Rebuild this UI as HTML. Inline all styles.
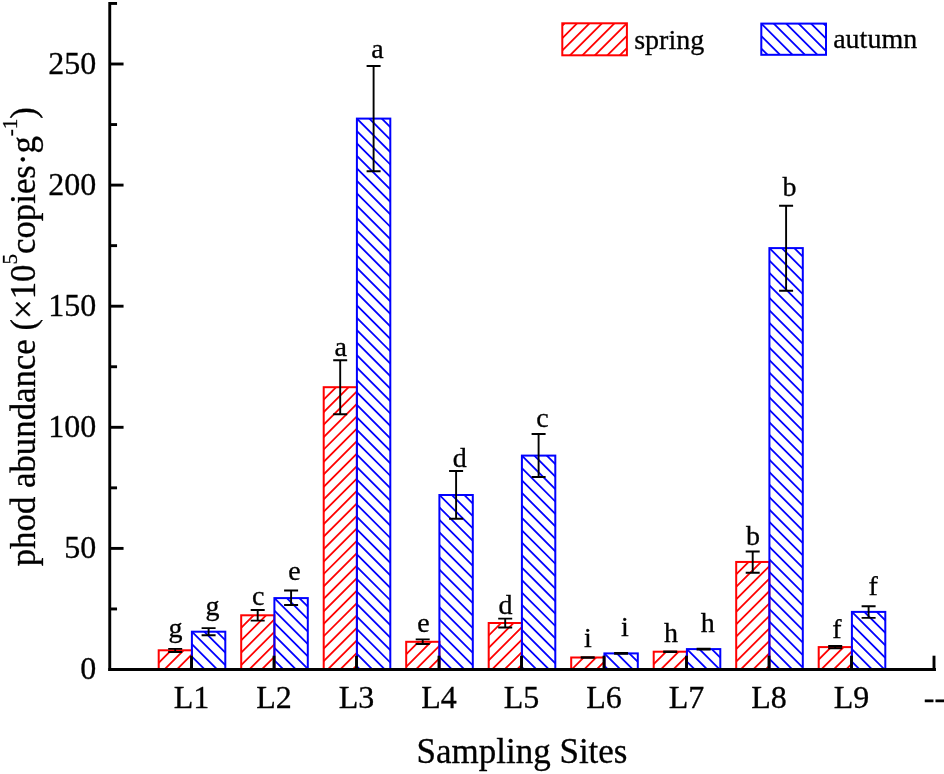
<!DOCTYPE html>
<html><head><meta charset="utf-8"><title>phod abundance</title>
<style>html,body{margin:0;padding:0;background:#fff}body{width:944px;height:774px;overflow:hidden;font-family:"Liberation Serif",serif}</style>
</head><body>
<svg width="944" height="774" viewBox="0 0 944 774" style="display:block;opacity:0.999;will-change:transform" font-family="'Liberation Serif', serif" fill="#000" stroke="#000" stroke-width="0.3">
<rect width="944" height="774" fill="#fff" stroke="none"/>
<defs><clipPath id="cr0"><rect x="158.70" y="650.30" width="33.20" height="19.20"/></clipPath><clipPath id="cb0"><rect x="191.90" y="631.70" width="33.40" height="37.80"/></clipPath><clipPath id="cr1"><rect x="241.20" y="615.30" width="33.20" height="54.20"/></clipPath><clipPath id="cb1"><rect x="274.40" y="598.10" width="33.40" height="71.40"/></clipPath><clipPath id="cr2"><rect x="323.70" y="387.20" width="33.20" height="282.30"/></clipPath><clipPath id="cb2"><rect x="356.90" y="118.60" width="33.40" height="550.90"/></clipPath><clipPath id="cr3"><rect x="406.20" y="641.80" width="33.20" height="27.70"/></clipPath><clipPath id="cb3"><rect x="439.40" y="495.00" width="33.40" height="174.50"/></clipPath><clipPath id="cr4"><rect x="488.70" y="623.00" width="33.20" height="46.50"/></clipPath><clipPath id="cb4"><rect x="521.90" y="455.60" width="33.40" height="213.90"/></clipPath><clipPath id="cr5"><rect x="571.20" y="657.50" width="33.20" height="12.00"/></clipPath><clipPath id="cb5"><rect x="604.40" y="653.40" width="33.40" height="16.10"/></clipPath><clipPath id="cr6"><rect x="653.70" y="651.70" width="33.20" height="17.80"/></clipPath><clipPath id="cb6"><rect x="686.90" y="649.10" width="33.40" height="20.40"/></clipPath><clipPath id="cr7"><rect x="736.20" y="561.95" width="33.20" height="107.55"/></clipPath><clipPath id="cb7"><rect x="769.40" y="248.10" width="33.40" height="421.40"/></clipPath><clipPath id="cr8"><rect x="818.70" y="647.10" width="33.20" height="22.40"/></clipPath><clipPath id="cb8"><rect x="851.90" y="611.90" width="33.40" height="57.60"/></clipPath><clipPath id="clr"><rect x="562.30" y="23.30" width="64.60" height="32.00"/></clipPath><clipPath id="clb"><rect x="761.30" y="23.60" width="64.70" height="31.20"/></clipPath></defs>
<path clip-path="url(#cr0)" d="M157.70 651.30L192.90 616.10M157.70 663.75L192.90 628.55M157.70 676.20L192.90 641.00M157.70 688.65L192.90 653.45M157.70 701.10L192.90 665.90" stroke="#ff0000" stroke-width="1.8" fill="none"/>
<rect x="158.70" y="650.30" width="33.20" height="19.20" fill="none" stroke="#ff0000" stroke-width="2.0"/>
<path clip-path="url(#cb0)" d="M190.90 605.80L226.30 641.20M190.90 618.25L226.30 653.65M190.90 630.70L226.30 666.10M190.90 643.15L226.30 678.55M190.90 655.60L226.30 691.00M190.90 668.05L226.30 703.45" stroke="#0000ff" stroke-width="1.8" fill="none"/>
<rect x="191.90" y="631.70" width="33.40" height="37.80" fill="none" stroke="#0000ff" stroke-width="2.0"/>
<path clip-path="url(#cr1)" d="M240.20 616.30L275.40 581.10M240.20 628.75L275.40 593.55M240.20 641.20L275.40 606.00M240.20 653.65L275.40 618.45M240.20 666.10L275.40 630.90M240.20 678.55L275.40 643.35M240.20 691.00L275.40 655.80M240.20 703.45L275.40 668.25" stroke="#ff0000" stroke-width="1.8" fill="none"/>
<rect x="241.20" y="615.30" width="33.20" height="54.20" fill="none" stroke="#ff0000" stroke-width="2.0"/>
<path clip-path="url(#cb1)" d="M273.40 572.20L308.80 607.60M273.40 584.65L308.80 620.05M273.40 597.10L308.80 632.50M273.40 609.55L308.80 644.95M273.40 622.00L308.80 657.40M273.40 634.45L308.80 669.85M273.40 646.90L308.80 682.30M273.40 659.35L308.80 694.75" stroke="#0000ff" stroke-width="1.8" fill="none"/>
<rect x="274.40" y="598.10" width="33.40" height="71.40" fill="none" stroke="#0000ff" stroke-width="2.0"/>
<path clip-path="url(#cr2)" d="M322.70 388.20L357.90 353.00M322.70 400.65L357.90 365.45M322.70 413.10L357.90 377.90M322.70 425.55L357.90 390.35M322.70 438.00L357.90 402.80M322.70 450.45L357.90 415.25M322.70 462.90L357.90 427.70M322.70 475.35L357.90 440.15M322.70 487.80L357.90 452.60M322.70 500.25L357.90 465.05M322.70 512.70L357.90 477.50M322.70 525.15L357.90 489.95M322.70 537.60L357.90 502.40M322.70 550.05L357.90 514.85M322.70 562.50L357.90 527.30M322.70 574.95L357.90 539.75M322.70 587.40L357.90 552.20M322.70 599.85L357.90 564.65M322.70 612.30L357.90 577.10M322.70 624.75L357.90 589.55M322.70 637.20L357.90 602.00M322.70 649.65L357.90 614.45M322.70 662.10L357.90 626.90M322.70 674.55L357.90 639.35M322.70 687.00L357.90 651.80M322.70 699.45L357.90 664.25" stroke="#ff0000" stroke-width="1.8" fill="none"/>
<rect x="323.70" y="387.20" width="33.20" height="282.30" fill="none" stroke="#ff0000" stroke-width="2.0"/>
<path clip-path="url(#cb2)" d="M355.90 92.70L391.30 128.10M355.90 105.15L391.30 140.55M355.90 117.60L391.30 153.00M355.90 130.05L391.30 165.45M355.90 142.50L391.30 177.90M355.90 154.95L391.30 190.35M355.90 167.40L391.30 202.80M355.90 179.85L391.30 215.25M355.90 192.30L391.30 227.70M355.90 204.75L391.30 240.15M355.90 217.20L391.30 252.60M355.90 229.65L391.30 265.05M355.90 242.10L391.30 277.50M355.90 254.55L391.30 289.95M355.90 267.00L391.30 302.40M355.90 279.45L391.30 314.85M355.90 291.90L391.30 327.30M355.90 304.35L391.30 339.75M355.90 316.80L391.30 352.20M355.90 329.25L391.30 364.65M355.90 341.70L391.30 377.10M355.90 354.15L391.30 389.55M355.90 366.60L391.30 402.00M355.90 379.05L391.30 414.45M355.90 391.50L391.30 426.90M355.90 403.95L391.30 439.35M355.90 416.40L391.30 451.80M355.90 428.85L391.30 464.25M355.90 441.30L391.30 476.70M355.90 453.75L391.30 489.15M355.90 466.20L391.30 501.60M355.90 478.65L391.30 514.05M355.90 491.10L391.30 526.50M355.90 503.55L391.30 538.95M355.90 516.00L391.30 551.40M355.90 528.45L391.30 563.85M355.90 540.90L391.30 576.30M355.90 553.35L391.30 588.75M355.90 565.80L391.30 601.20M355.90 578.25L391.30 613.65M355.90 590.70L391.30 626.10M355.90 603.15L391.30 638.55M355.90 615.60L391.30 651.00M355.90 628.05L391.30 663.45M355.90 640.50L391.30 675.90M355.90 652.95L391.30 688.35M355.90 665.40L391.30 700.80" stroke="#0000ff" stroke-width="1.8" fill="none"/>
<rect x="356.90" y="118.60" width="33.40" height="550.90" fill="none" stroke="#0000ff" stroke-width="2.0"/>
<path clip-path="url(#cr3)" d="M405.20 642.80L440.40 607.60M405.20 655.25L440.40 620.05M405.20 667.70L440.40 632.50M405.20 680.15L440.40 644.95M405.20 692.60L440.40 657.40" stroke="#ff0000" stroke-width="1.8" fill="none"/>
<rect x="406.20" y="641.80" width="33.20" height="27.70" fill="none" stroke="#ff0000" stroke-width="2.0"/>
<path clip-path="url(#cb3)" d="M438.40 469.10L473.80 504.50M438.40 481.55L473.80 516.95M438.40 494.00L473.80 529.40M438.40 506.45L473.80 541.85M438.40 518.90L473.80 554.30M438.40 531.35L473.80 566.75M438.40 543.80L473.80 579.20M438.40 556.25L473.80 591.65M438.40 568.70L473.80 604.10M438.40 581.15L473.80 616.55M438.40 593.60L473.80 629.00M438.40 606.05L473.80 641.45M438.40 618.50L473.80 653.90M438.40 630.95L473.80 666.35M438.40 643.40L473.80 678.80M438.40 655.85L473.80 691.25M438.40 668.30L473.80 703.70" stroke="#0000ff" stroke-width="1.8" fill="none"/>
<rect x="439.40" y="495.00" width="33.40" height="174.50" fill="none" stroke="#0000ff" stroke-width="2.0"/>
<path clip-path="url(#cr4)" d="M487.70 624.00L522.90 588.80M487.70 636.45L522.90 601.25M487.70 648.90L522.90 613.70M487.70 661.35L522.90 626.15M487.70 673.80L522.90 638.60M487.70 686.25L522.90 651.05M487.70 698.70L522.90 663.50" stroke="#ff0000" stroke-width="1.8" fill="none"/>
<rect x="488.70" y="623.00" width="33.20" height="46.50" fill="none" stroke="#ff0000" stroke-width="2.0"/>
<path clip-path="url(#cb4)" d="M520.90 429.70L556.30 465.10M520.90 442.15L556.30 477.55M520.90 454.60L556.30 490.00M520.90 467.05L556.30 502.45M520.90 479.50L556.30 514.90M520.90 491.95L556.30 527.35M520.90 504.40L556.30 539.80M520.90 516.85L556.30 552.25M520.90 529.30L556.30 564.70M520.90 541.75L556.30 577.15M520.90 554.20L556.30 589.60M520.90 566.65L556.30 602.05M520.90 579.10L556.30 614.50M520.90 591.55L556.30 626.95M520.90 604.00L556.30 639.40M520.90 616.45L556.30 651.85M520.90 628.90L556.30 664.30M520.90 641.35L556.30 676.75M520.90 653.80L556.30 689.20M520.90 666.25L556.30 701.65" stroke="#0000ff" stroke-width="1.8" fill="none"/>
<rect x="521.90" y="455.60" width="33.40" height="213.90" fill="none" stroke="#0000ff" stroke-width="2.0"/>
<path clip-path="url(#cr5)" d="M570.20 658.50L605.40 623.30M570.20 670.95L605.40 635.75M570.20 683.40L605.40 648.20M570.20 695.85L605.40 660.65" stroke="#ff0000" stroke-width="1.8" fill="none"/>
<rect x="571.20" y="657.50" width="33.20" height="12.00" fill="none" stroke="#ff0000" stroke-width="2.0"/>
<path clip-path="url(#cb5)" d="M603.40 627.50L638.80 662.90M603.40 639.95L638.80 675.35M603.40 652.40L638.80 687.80M603.40 664.85L638.80 700.25" stroke="#0000ff" stroke-width="1.8" fill="none"/>
<rect x="604.40" y="653.40" width="33.40" height="16.10" fill="none" stroke="#0000ff" stroke-width="2.0"/>
<path clip-path="url(#cr6)" d="M652.70 652.70L687.90 617.50M652.70 665.15L687.90 629.95M652.70 677.60L687.90 642.40M652.70 690.05L687.90 654.85M652.70 702.50L687.90 667.30" stroke="#ff0000" stroke-width="1.8" fill="none"/>
<rect x="653.70" y="651.70" width="33.20" height="17.80" fill="none" stroke="#ff0000" stroke-width="2.0"/>
<path clip-path="url(#cb6)" d="M685.90 623.20L721.30 658.60M685.90 635.65L721.30 671.05M685.90 648.10L721.30 683.50M685.90 660.55L721.30 695.95" stroke="#0000ff" stroke-width="1.8" fill="none"/>
<rect x="686.90" y="649.10" width="33.40" height="20.40" fill="none" stroke="#0000ff" stroke-width="2.0"/>
<path clip-path="url(#cr7)" d="M735.20 562.95L770.40 527.75M735.20 575.40L770.40 540.20M735.20 587.85L770.40 552.65M735.20 600.30L770.40 565.10M735.20 612.75L770.40 577.55M735.20 625.20L770.40 590.00M735.20 637.65L770.40 602.45M735.20 650.10L770.40 614.90M735.20 662.55L770.40 627.35M735.20 675.00L770.40 639.80M735.20 687.45L770.40 652.25M735.20 699.90L770.40 664.70" stroke="#ff0000" stroke-width="1.8" fill="none"/>
<rect x="736.20" y="561.95" width="33.20" height="107.55" fill="none" stroke="#ff0000" stroke-width="2.0"/>
<path clip-path="url(#cb7)" d="M768.40 222.20L803.80 257.60M768.40 234.65L803.80 270.05M768.40 247.10L803.80 282.50M768.40 259.55L803.80 294.95M768.40 272.00L803.80 307.40M768.40 284.45L803.80 319.85M768.40 296.90L803.80 332.30M768.40 309.35L803.80 344.75M768.40 321.80L803.80 357.20M768.40 334.25L803.80 369.65M768.40 346.70L803.80 382.10M768.40 359.15L803.80 394.55M768.40 371.60L803.80 407.00M768.40 384.05L803.80 419.45M768.40 396.50L803.80 431.90M768.40 408.95L803.80 444.35M768.40 421.40L803.80 456.80M768.40 433.85L803.80 469.25M768.40 446.30L803.80 481.70M768.40 458.75L803.80 494.15M768.40 471.20L803.80 506.60M768.40 483.65L803.80 519.05M768.40 496.10L803.80 531.50M768.40 508.55L803.80 543.95M768.40 521.00L803.80 556.40M768.40 533.45L803.80 568.85M768.40 545.90L803.80 581.30M768.40 558.35L803.80 593.75M768.40 570.80L803.80 606.20M768.40 583.25L803.80 618.65M768.40 595.70L803.80 631.10M768.40 608.15L803.80 643.55M768.40 620.60L803.80 656.00M768.40 633.05L803.80 668.45M768.40 645.50L803.80 680.90M768.40 657.95L803.80 693.35" stroke="#0000ff" stroke-width="1.8" fill="none"/>
<rect x="769.40" y="248.10" width="33.40" height="421.40" fill="none" stroke="#0000ff" stroke-width="2.0"/>
<path clip-path="url(#cr8)" d="M817.70 648.10L852.90 612.90M817.70 660.55L852.90 625.35M817.70 673.00L852.90 637.80M817.70 685.45L852.90 650.25M817.70 697.90L852.90 662.70" stroke="#ff0000" stroke-width="1.8" fill="none"/>
<rect x="818.70" y="647.10" width="33.20" height="22.40" fill="none" stroke="#ff0000" stroke-width="2.0"/>
<path clip-path="url(#cb8)" d="M850.90 586.00L886.30 621.40M850.90 598.45L886.30 633.85M850.90 610.90L886.30 646.30M850.90 623.35L886.30 658.75M850.90 635.80L886.30 671.20M850.90 648.25L886.30 683.65M850.90 660.70L886.30 696.10" stroke="#0000ff" stroke-width="1.8" fill="none"/>
<rect x="851.90" y="611.90" width="33.40" height="57.60" fill="none" stroke="#0000ff" stroke-width="2.0"/>
<path clip-path="url(#clr)" d="M561.30 26.65L627.90 -39.95M561.30 39.10L627.90 -27.50M561.30 51.55L627.90 -15.05M561.30 64.00L627.90 -2.60M561.30 76.45L627.90 9.85M561.30 88.90L627.90 22.30M561.30 101.35L627.90 34.75M561.30 113.80L627.90 47.20" stroke="#ff0000" stroke-width="1.8" fill="none"/>
<rect x="562.30" y="23.30" width="64.60" height="32.00" fill="none" stroke="#ff0000" stroke-width="2.0"/>
<path clip-path="url(#clb)" d="M760.30 -39.65L827.00 27.05M760.30 -27.20L827.00 39.50M760.30 -14.75L827.00 51.95M760.30 -2.30L827.00 64.40M760.30 10.15L827.00 76.85M760.30 22.60L827.00 89.30M760.30 35.05L827.00 101.75M760.30 47.50L827.00 114.20" stroke="#0000ff" stroke-width="1.8" fill="none"/>
<rect x="761.30" y="23.60" width="64.70" height="31.20" fill="none" stroke="#0000ff" stroke-width="2.0"/>
<g stroke="#000" stroke-width="2.9" fill="none" stroke-linecap="butt">
<path d="M109.75 2.00V670.95"/>
<path d="M108.30 669.5H935.95"/>
<path d="M109.75 608.95h7.3"/>
<path d="M109.75 548.40h13.8"/>
<path d="M109.75 487.85h7.3"/>
<path d="M109.75 427.30h13.8"/>
<path d="M109.75 366.75h7.3"/>
<path d="M109.75 306.20h13.8"/>
<path d="M109.75 245.65h7.3"/>
<path d="M109.75 185.10h13.8"/>
<path d="M109.75 124.55h7.3"/>
<path d="M109.75 64.00h13.8"/>
<path d="M109.75 3.45h7.3"/>
<path d="M191.50 669.5v-13.8"/>
<path d="M274.00 669.5v-13.8"/>
<path d="M356.50 669.5v-13.8"/>
<path d="M439.00 669.5v-13.8"/>
<path d="M521.50 669.5v-13.8"/>
<path d="M604.00 669.5v-13.8"/>
<path d="M686.50 669.5v-13.8"/>
<path d="M769.00 669.5v-13.8"/>
<path d="M851.50 669.5v-13.8"/>
<path d="M934.00 669.5v-13.8"/>
</g>
<g stroke="#000" stroke-width="1.9" fill="none">
<path d="M168.20 648.90h14M168.20 652.00h14M175.20 648.90V652.00"/>
<path d="M201.60 628.10h14M201.60 635.30h14M208.60 628.10V635.30"/>
<path d="M250.70 610.00h14M250.70 620.60h14M257.70 610.00V620.60"/>
<path d="M284.10 590.50h14M284.10 605.00h14M291.10 590.50V605.00"/>
<path d="M333.20 360.30h14M333.20 414.20h14M340.20 360.30V414.20"/>
<path d="M366.60 66.00h14M366.60 171.30h14M373.60 66.00V171.30"/>
<path d="M415.70 639.40h14M415.70 644.00h14M422.70 639.40V644.00"/>
<path d="M449.10 471.00h14M449.10 518.70h14M456.10 471.00V518.70"/>
<path d="M498.20 618.60h14M498.20 627.50h14M505.20 618.60V627.50"/>
<path d="M531.60 434.00h14M531.60 477.00h14M538.60 434.00V477.00"/>
<path d="M580.70 657.20h14M580.70 657.90h14M587.70 657.20V657.90"/>
<path d="M614.10 653.00h14M614.10 653.70h14M621.10 653.00V653.70"/>
<path d="M663.20 651.40h14M663.20 652.10h14M670.20 651.40V652.10"/>
<path d="M696.60 648.80h14M696.60 649.50h14M703.60 648.80V649.50"/>
<path d="M745.70 551.50h14M745.70 572.70h14M752.70 551.50V572.70"/>
<path d="M779.10 205.80h14M779.10 290.70h14M786.10 205.80V290.70"/>
<path d="M828.20 646.00h14M828.20 648.30h14M835.20 646.00V648.30"/>
<path d="M861.60 606.20h14M861.60 617.90h14M868.60 606.20V617.90"/>
</g>
<g font-size="28" text-anchor="middle">
<text x="175.5" y="637.0">g</text>
<text x="212.5" y="615.0">g</text>
<text x="258.2" y="604.8">c</text>
<text x="294.5" y="579.6">e</text>
<text x="340.7" y="356.3">a</text>
<text x="377.5" y="57.5">a</text>
<text x="423.4" y="632.0">e</text>
<text x="459.8" y="466.7">d</text>
<text x="505.6" y="614.0">d</text>
<text x="542.4" y="427.0">c</text>
<text x="588.0" y="647.3">i</text>
<text x="625.0" y="636.3">i</text>
<text x="670.9" y="642.1">h</text>
<text x="707.8" y="632.2">h</text>
<text x="753.0" y="545.0">b</text>
<text x="789.4" y="196.0">b</text>
<text x="836.8" y="637.6">f</text>
<text x="873.2" y="595.2">f</text>
</g>
<g font-size="32" text-anchor="end">
<text x="96.3" y="679.4">0</text>
<text x="96.3" y="558.3">50</text>
<text x="96.3" y="437.2">100</text>
<text x="96.3" y="316.1">150</text>
<text x="96.3" y="195.0">200</text>
<text x="96.3" y="73.9">250</text>
</g>
<g font-size="32" text-anchor="middle">
<text x="191.5" y="707.6">L1</text>
<text x="274.0" y="707.6">L2</text>
<text x="356.5" y="707.6">L3</text>
<text x="439.0" y="707.6">L4</text>
<text x="521.5" y="707.6">L5</text>
<text x="604.0" y="707.6">L6</text>
<text x="686.5" y="707.6">L7</text>
<text x="769.0" y="707.6">L8</text>
<text x="851.5" y="707.6">L9</text>
<text x="934.5" y="707.6">--</text>
</g>
<text font-size="28" x="634.2" y="49">spring</text>
<text font-size="28" x="833.2" y="48.4">autumn</text>
<text font-size="35" text-anchor="middle" x="522" y="762.5">Sampling Sites</text>
<text font-size="34.8" transform="translate(34.5,566.3) rotate(-90)" x="0" y="0">phod abundance (×10<tspan font-size="21" dy="-17.5">5</tspan><tspan dy="17.5">copies·g</tspan><tspan font-size="21" dy="-17.5">-1</tspan><tspan dy="17.5">)</tspan></text>
</svg>
</body></html>
